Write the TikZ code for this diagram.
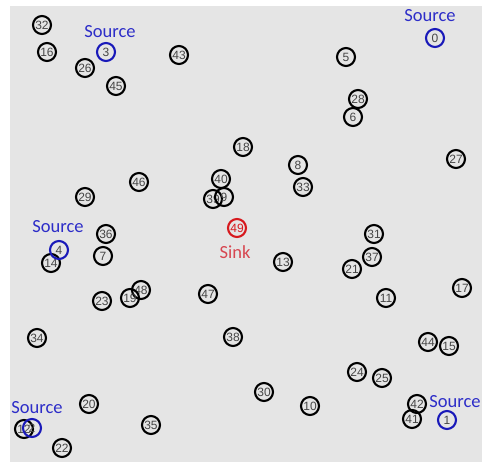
\documentclass[tikz,border=0pt]{standalone}
\usepackage{fontspec}
\setmainfont{Liberation Sans}
\newfontfamily\lblfont{Carlito}
\definecolor{bggray}{RGB}{229,229,229}
\definecolor{numgray}{RGB}{70,70,70}
\definecolor{srcblue}{RGB}{25,25,185}
\definecolor{srctext}{RGB}{45,45,200}
\definecolor{sinkred}{RGB}{215,25,30}
\definecolor{sinktext}{RGB}{215,70,80}
\begin{document}
\begin{tikzpicture}[x=1pt,y=-1pt,
  nd/.style={circle,draw=black,line width=2.1pt,minimum size=18pt,inner sep=0pt,
    font=\fontsize{12}{12}\selectfont,text=numgray},
  srcnd/.style={nd,draw=srcblue},
  sinknd/.style={nd,draw=sinkred,text=sinkred},
  srclbl/.style={font=\lblfont\fontsize{18.5}{18.5}\selectfont,text=srctext,inner sep=0pt},
  sinklbl/.style={font=\lblfont\fontsize{18.5}{18.5}\selectfont,text=sinktext,inner sep=0pt}]
\useasboundingbox (0,0) rectangle (482,464);
\fill[white] (0,0) rectangle (482,464);
\fill[bggray] (10,6) rectangle (482,462);
% ordinary nodes
\node[nd] (n32) at (42,25) {32};
\node[nd] (n16) at (47,52) {16};
\node[nd] (n26) at (85,68) {26};
\node[nd] (n45) at (116,86) {45};
\node[nd] (n43) at (179,55) {43};
\node[nd] (n5) at (346,57) {5};
\node[nd] (n28) at (358,99) {28};
\node[nd] (n6) at (353,117) {6};
\node[nd] (n18) at (243,147) {18};
\node[nd] (n8) at (298,165) {8};
\node[nd] (n27) at (456,159) {27};
\node[nd] (n33) at (303,187) {33};
\node[nd] (n46) at (139,182) {46};
\node[nd] (n29) at (85,197) {29};
\node[nd] (n40) at (221,179) {40};
\node[nd] (n39) at (213,199) {39};
\node[nd] (n9) at (224,197) {9};
\node[nd] (n36) at (106,234) {36};
\node[nd] (n7) at (103,256) {7};
\node[nd] (n14) at (51,263) {14};
\node[nd] (n31) at (374,234) {31};
\node[nd] (n37) at (372,257) {37};
\node[nd] (n21) at (352,269) {21};
\node[nd] (n13) at (283,262) {13};
\node[nd] (n17) at (462,288) {17};
\node[nd] (n11) at (386,298) {11};
\node[nd] (n47) at (208,294) {47};
\node[nd] (n48) at (141,290) {48};
\node[nd] (n19) at (130,298) {19};
\node[nd] (n23) at (102,301) {23};
\node[nd] (n34) at (37,338) {34};
\node[nd] (n38) at (233,337) {38};
\node[nd] (n44) at (428,342) {44};
\node[nd] (n15) at (449,346) {15};
\node[nd] (n24) at (357,372) {24};
\node[nd] (n25) at (382,378) {25};
\node[nd] (n30) at (264,392) {30};
\node[nd] (n10) at (310,406) {10};
\node[nd] (n20) at (89,404) {20};
\node[nd] (n42) at (417,404) {42};
\node[nd] (n41) at (412,419) {41};
\node[nd] (n35) at (151,425) {35};
\node[nd] (n12) at (24,429) {12};
\node[nd] (n22) at (62,448) {22};
% sources
\node[srcnd] (n0) at (435,38) {0};
\node[srcnd] (n3) at (106,52) {3};
\node[srcnd] (n4) at (59,250) {4};
\node[srcnd] (n1) at (447,420) {1};
\node[srcnd] (n2) at (32,428) {2};
\node[srclbl] (s0) at (430,16) {Source};
\node[srclbl] (s3) at (110,32) {Source};
\node[srclbl] (s4) at (58,227) {Source};
\node[srclbl] (s1) at (455,402) {Source};
\node[srclbl] (s2) at (37,408) {Source};
% sink
\node[sinknd] (n49) at (237,228) {49};
\node[sinklbl] (sk) at (235,252) {Sink};
\end{tikzpicture}
\end{document}
